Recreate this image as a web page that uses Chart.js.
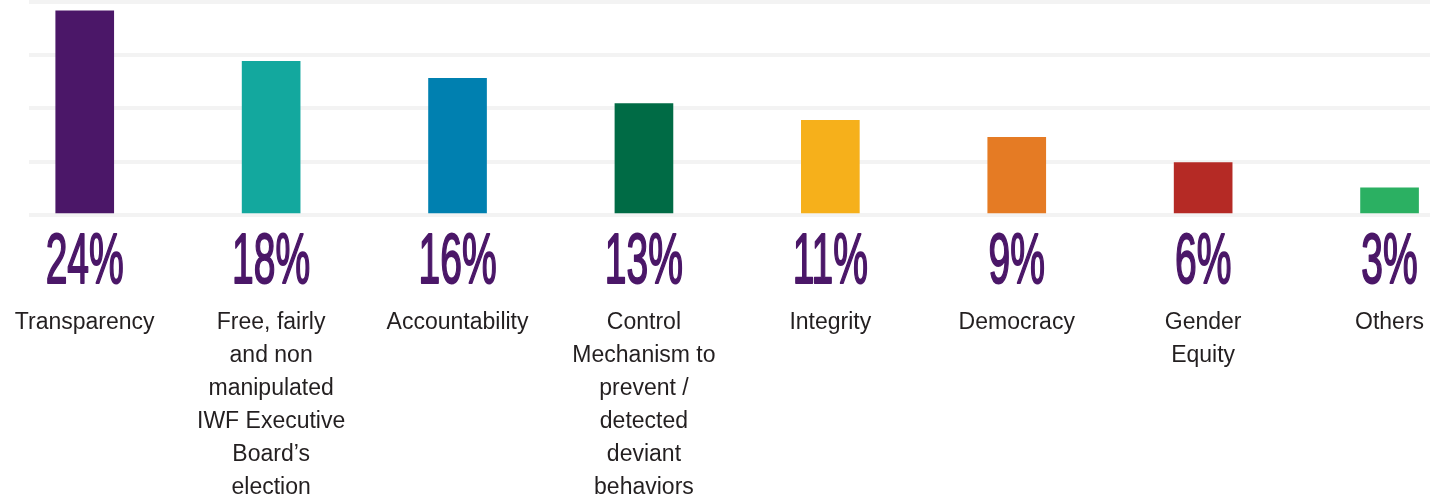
<!DOCTYPE html>
<html>
<head>
<meta charset="utf-8">
<script src="https://cdn.jsdelivr.net/npm/chart.js@4/dist/chart.umd.min.js"></script>
<style>
    html, body { margin: 0; padding: 0; background: #ffffff; }
    #chartContainer { width: 1439px; height: 498px; position: relative; }
</style>
</head>
<body>
<div id="chartContainer"><canvas id="valuesChart"></canvas></div>
<script>
const categories = [
    ["Transparency"],
    ["Free, fairly", "and non", "manipulated", "IWF Executive", "Board\u2019s", "election"],
    ["Accountability"],
    ["Control", "Mechanism to", "prevent /", "detected", "deviant", "behaviors"],
    ["Integrity"],
    ["Democracy"],
    ["Gender", "Equity"],
    ["Others"]
];
const shares = [24, 18, 16, 13, 11, 9, 6, 3];
const barColors = ['#4b1768', '#13a89e', '#0080b0', '#006b45', '#f6b01b', '#e57b24', '#b52a25', '#2bb062'];
const gridLevels = [-0.24, 6.09, 12.41, 18.74, 25.06];

// big condensed percentage under each bar
const percentLabels = {
    id: 'percentLabels',
    afterDatasetsDraw(chart) {
        const ctx = chart.ctx;
        const meta = chart.getDatasetMeta(0);
        const y = chart.chartArea.bottom + 68;
        ctx.save();
        ctx.fillStyle = '#4b1768';
        ctx.strokeStyle = '#4b1768';
        ctx.lineWidth = 2;
        ctx.lineJoin = 'round';
        ctx.font = '71px "Liberation Sans", Arial, sans-serif';
        ctx.textAlign = 'center';
        ctx.textBaseline = 'alphabetic';
        meta.data.forEach(function(bar, i) {
            const txt = shares[i] + '%';
            ctx.save();
            ctx.translate(bar.x, y);
            ctx.scale(0.55, 1);
            ctx.fillText(txt, 0, 0);
            ctx.strokeText(txt, 0, 0);
            ctx.restore();
        });
        ctx.restore();
    }
};

function buildChart() {
    const ctx = document.getElementById('valuesChart').getContext('2d');
    return new Chart(ctx, {
        type: 'bar',
        data: {
            datasets: [{
                data: shares.map(function(v, i) { return { x: i, y: v }; }),
                backgroundColor: barColors,
                borderWidth: 0,
                barThickness: 58
            }]
        },
        options: {
            responsive: true,
            maintainAspectRatio: false,
            animation: false,
            layout: { padding: { left: 29, right: 9, top: 2, bottom: 0 } },
            plugins: {
                legend: { display: false },
                tooltip: { enabled: false }
            },
            scales: {
                x: {
                    type: 'linear',
                    offset: false,
                    min: -0.299,
                    max: 7.217,
                    grid: { display: false, drawTicks: false },
                    border: { display: false },
                    afterBuildTicks: function(scale) {
                        scale.ticks = categories.map(function(c, i) { return { value: i }; });
                    },
                    afterFit: function(scale) {
                        // labels sit well inside the plot, no extra side room needed
                        scale.height = 283;
                        scale.paddingLeft = 0;
                        scale.paddingRight = 0;
                    },
                    ticks: {
                        autoSkip: false,
                        maxRotation: 0,
                        padding: 91,
                        color: '#231f20',
                        font: { family: '"Liberation Sans", Arial, Helvetica, sans-serif', size: 23, lineHeight: 1.435 },
                        callback: function(value) { return categories[value]; }
                    }
                },
                y: {
                    min: gridLevels[0],
                    max: gridLevels[gridLevels.length - 1],
                    afterBuildTicks: function(scale) {
                        scale.ticks = gridLevels.map(function(v) { return { value: v }; });
                    },
                    grid: { color: '#f3f3f3', lineWidth: 4, drawTicks: false },
                    border: { display: false },
                    ticks: { display: false }
                }
            }
        },
        plugins: [percentLabels]
    });
}

buildChart();
</script>
</body>
</html>
